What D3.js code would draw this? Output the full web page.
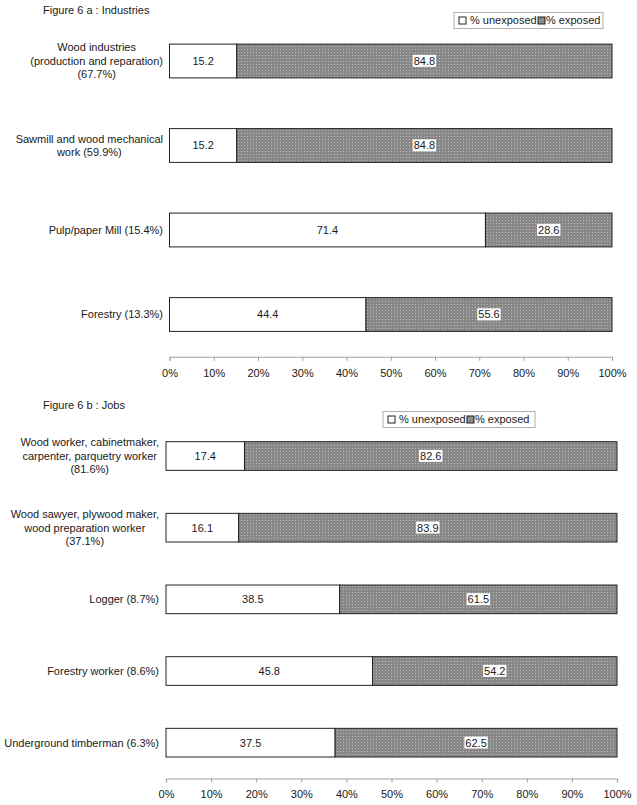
<!DOCTYPE html>
<html>
<head>
<meta charset="utf-8">
<script src="https://cdn.jsdelivr.net/npm/d3@7"></script>
<style>
  body { margin: 0; background: #fff; }
  svg text { font-family: "Liberation Sans", Arial, sans-serif; font-size: 11px; fill: #1a1a1a; }
  .axis path, .axis line { stroke: #a0a0a0; }
</style>
</head>
<body>
<div class="g-chart"></div>
<script>
// figure 6 a : industries
var industryLabels = [
  ["Wood industries", "(production and reparation)", "(67.7%)"],
  ["Sawmill and wood mechanical", "work (59.9%)"],
  ["Pulp/paper Mill (15.4%)"],
  ["Forestry (13.3%)"]
];
var industryUnexposed = [15.2, 15.2, 71.4, 44.4];
var industryExposed = [84.8, 84.8, 28.6, 55.6];

// figure 6 b : jobs
var jobLabels = [
  ["Wood worker, cabinetmaker,", "carpenter, parquetry worker", "(81.6%)"],
  ["Wood sawyer, plywood maker,", "wood preparation worker", "(37.1%)"],
  ["Logger (8.7%)"],
  ["Forestry worker (8.6%)"],
  ["Underground timberman (6.3%)"]
];
var jobUnexposed = [17.4, 16.1, 38.5, 45.8, 37.5];
var jobExposed = [82.6, 83.9, 61.5, 54.2, 62.5];

var tickValues = [0, 10, 20, 30, 40, 50, 60, 70, 80, 90, 100];
var legendNames = ["% unexposed", "% exposed"];

var width = 637, height = 805;
var svg = d3.select(".g-chart").append("svg")
  .attr("width", width)
  .attr("height", height);

// dotted grey fill like the old excel pattern
var pat = svg.append("defs").append("pattern")
  .attr("id", "dots")
  .attr("patternUnits", "userSpaceOnUse")
  .attr("width", 3).attr("height", 3);
pat.append("rect").attr("width", 3).attr("height", 3).attr("fill", "#888888");
pat.append("rect").attr("x", 1).attr("y", 1).attr("width", 1).attr("height", 1).attr("fill", "#b8b8b8");

function drawPanel(opt) {
  var g = svg.append("g");
  var cats = opt.labels.map((d, i) => i);

  var x = d3.scaleLinear().domain([0, 100]).range([opt.x0, opt.x1]);
  var y = d3.scaleBand().domain(cats).range([opt.y0, opt.y1])
    .paddingInner(0.6).paddingOuter(0.3);

  g.append("text")
    .attr("x", 43).attr("y", opt.titleY)
    .text(opt.title);

  // category labels, each line centred, block right aligned
  cats.forEach(function(i) {
    var lines = opt.labels[i];
    var t = g.append("text").attr("text-anchor", "middle");
    var lh = 13.5;
    var cy = y(i) + y.bandwidth() / 2;
    lines.forEach(function(l, j) {
      t.append("tspan")
        .attr("y", cy + (j - (lines.length - 1) / 2) * lh)
        .attr("dy", "0.35em")
        .text(l);
    });
    var w = d3.max(t.selectAll("tspan").nodes(), n => n.getComputedTextLength());
    t.selectAll("tspan").attr("x", opt.labelRight - w / 2);
  });

  // unexposed segment
  g.append("g").selectAll("rect")
    .data(cats)
    .join("rect")
      .attr("x", x(0))
      .attr("y", d => y(d))
      .attr("width", d => x(opt.unexposed[d]) - x(0))
      .attr("height", y.bandwidth())
      .attr("fill", "#fff")
      .attr("stroke", "#222");

  // exposed segment
  g.append("g").selectAll("rect")
    .data(cats)
    .join("rect")
      .attr("x", d => x(opt.unexposed[d]))
      .attr("y", d => y(d))
      .attr("width", d => x(opt.unexposed[d] + opt.exposed[d]) - x(opt.unexposed[d]))
      .attr("height", y.bandwidth())
      .attr("fill", "url(#dots)")
      .attr("stroke", "#222");

  // value labels
  g.append("g").selectAll("text")
    .data(cats)
    .join("text")
      .attr("text-anchor", "middle")
      .attr("x", d => x(opt.unexposed[d] / 2))
      .attr("y", d => y(d) + y.bandwidth() / 2)
      .attr("dy", "0.35em")
      .text(d => opt.unexposed[d].toFixed(1));

  var ex = g.append("g").selectAll("g")
    .data(cats)
    .join("g")
      .attr("transform", d => "translate(" + x(opt.unexposed[d] + opt.exposed[d] / 2) + "," + (y(d) + y.bandwidth() / 2) + ")");
  ex.append("rect").attr("fill", "#fff");
  ex.append("text")
    .attr("text-anchor", "middle")
    .attr("dy", "0.35em")
    .text(d => opt.exposed[d].toFixed(1));
  ex.each(function() {
    var el = d3.select(this);
    var b = el.select("text").node().getBBox();
    el.select("rect")
      .attr("x", b.x - 1).attr("y", b.y)
      .attr("width", b.width + 2).attr("height", b.height);
  });

  // x axis
  var axis = g.append("g")
    .attr("class", "axis")
    .attr("transform", "translate(0," + opt.y1 + ")")
    .call(d3.axisBottom(x).tickValues(tickValues).tickSize(4).tickPadding(8).tickFormat(d => d + "%"));
  axis.selectAll("text").style("font-size", "11px").attr("fill", "#1a1a1a");

  // legend
  var lg = g.append("g").attr("transform", "translate(" + opt.legendX + "," + opt.legendY + ")");
  lg.append("rect")
    .attr("width", opt.legendW).attr("height", 16)
    .attr("fill", "#fff").attr("stroke", "#b0b0b0");
  lg.append("rect").attr("x", 5).attr("y", 4.5).attr("width", 7).attr("height", 7)
    .attr("fill", "#fff").attr("stroke", "#222");
  lg.append("text").attr("x", 16).attr("y", 8).attr("dy", "0.35em").text(legendNames[0]);
  lg.append("rect").attr("x", 84).attr("y", 4.5).attr("width", 7).attr("height", 7)
    .attr("fill", "url(#dots)").attr("stroke", "#222");
  lg.append("text").attr("x", 92).attr("y", 8).attr("dy", "0.35em").text(legendNames[1]);
}

drawPanel({
  title: "Figure 6 a : Industries", titleY: 14,
  labels: industryLabels, unexposed: industryUnexposed, exposed: industryExposed,
  x0: 169.5, x1: 612, y0: 18.75, y1: 356.75, labelRight: 163,
  legendX: 454, legendY: 12.5, legendW: 149
});

drawPanel({
  title: "Figure 6 b : Jobs", titleY: 409,
  labels: jobLabels, unexposed: jobUnexposed, exposed: jobExposed,
  x0: 166, x1: 617, y0: 420.2, y1: 778.5, labelRight: 159,
  legendX: 383, legendY: 411.5, legendW: 152
});
</script>
</body>
</html>
